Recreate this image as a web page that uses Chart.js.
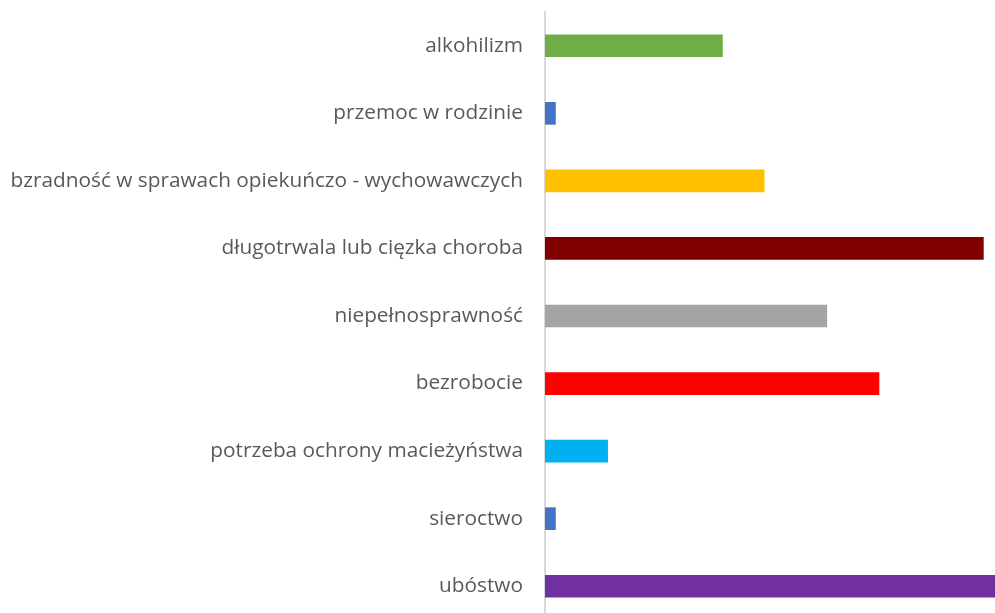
<!DOCTYPE html>
<html lang="pl">
<head>
<meta charset="utf-8">
<title>Powody przyznania pomocy</title>
<script src="https://cdn.jsdelivr.net/npm/chart.js@4.4.1/dist/chart.umd.min.js"></script>
<style>
  html, body { margin: 0; padding: 0; background: #fff; overflow: hidden; }
  /* obszar rysunku jest szerszy/wyższy niż okno — ostatni słupek jest przycięty jak w oryginale */
  #wrap { position: relative; width: 1046px; height: 622px; }
</style>
</head>
<body>
<div id="wrap"><canvas id="chart"></canvas></div>
<script>
// kategorie (od góry do dołu)
const categories = [
  "alkohilizm",
  "przemoc w rodzinie",
  "bzradność w sprawach opiekuńczo - wychowawczych",
  "długotrwala lub cięzka choroba",
  "niepełnosprawność",
  "bezrobocie",
  "potrzeba ochrony macieżyństwa",
  "sieroctwo",
  "ubóstwo"
];

const values = [17, 1, 21, 42, 27, 32, 6, 1, 45];

// kolory słupków
const barColors = [
  "#70AD47", "#4472C4", "#FFC000", "#800000", "#A5A5A5",
  "#FF0000", "#00B0F0", "#4472C4", "#7030A0"
];

const X_MAX = 48;

new Chart(document.getElementById("chart").getContext("2d"), {
  type: "bar",
  data: {
    labels: categories,
    datasets: [{
      data: values,
      backgroundColor: barColors,
      borderWidth: 0,
      barThickness: 22
    }]
  },
  options: {
    indexAxis: "y",
    responsive: true,
    maintainAspectRatio: false,
    animation: false,
    layout: { padding: { top: 12, bottom: 2, left: 0, right: 0 } },
    plugins: {
      legend: { display: false },
      tooltip: { enabled: false }
    },
    scales: {
      x: {
        display: false,
        min: 0,
        max: X_MAX
      },
      y: {
        grid: { display: false, drawTicks: false },
        border: { display: true, color: "#d9d9d9", width: 2 },
        ticks: {
          color: "#595959",
          padding: 22,
          font: { family: "'Open Sans', sans-serif", size: 20.8 }
        },
        afterFit(scale) {
          scale.width = 545;
          // bez dodatkowego marginesu nad/pod osią
          scale.paddingTop = 0;
          scale.paddingBottom = 0;
        }
      }
    }
  }
});
</script>
</body>
</html>
